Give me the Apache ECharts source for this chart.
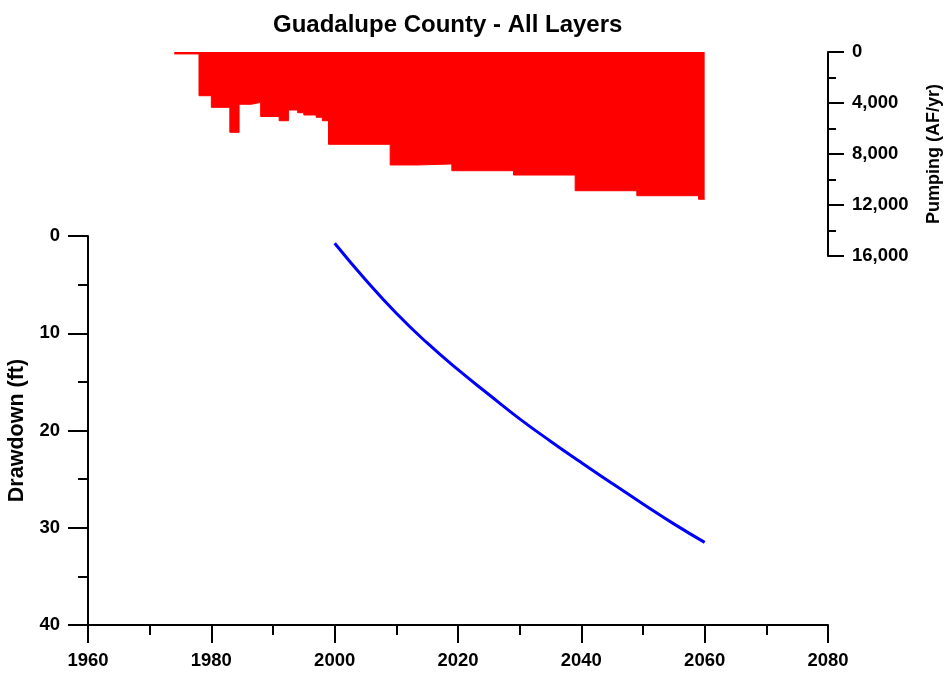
<!DOCTYPE html>
<html><head><meta charset="utf-8">
<script src="https://cdn.jsdelivr.net/npm/echarts@6/dist/echarts.min.js"></script>
<style>html,body{margin:0;padding:0;background:#fff}#c{width:946px;height:679px}</style>
</head><body><div id="c"></div><script>
// Pumping (AF/yr): each value holds from its start year until the next start year
const pumpYears = [1974,1978,1980,1983,1984.5,1986.5,1988,1991,1992.5,1994,1995,1997,1998,1999,2009,2013.5,2019,2029,2039,2049,2059,2060];
const pumpRates = [150,3430,4340,6300,4100,3950,5060,5390,4550,4760,4940,5120,5390,7240,8860,8780,9310,9650,10880,11270,11550,11550];
// Drawdown (ft)
const ddYears = [2000,2005,2010,2015,2020,2025,2030,2035,2040,2045,2050,2055,2060];
const ddValues = [0.75,4.5,7.95,11.0,13.75,16.3,18.8,21.1,23.3,25.45,27.55,29.6,31.5];
const xTicks = [1960,1980,2000,2020,2040,2060,2080];

const FONT = 'Liberation Sans, Arial, sans-serif';
const axisLine = {show:true, onZero:false, lineStyle:{color:'#000', width:2}};
const lbl = {color:'#000', fontFamily:FONT, fontWeight:'bold', fontSize:18.5};

const chart = echarts.init(document.getElementById('c'), null, {renderer:'canvas'});
chart.setOption({
  animation:false,
  backgroundColor:'#fff',
  title:{text:'Guadalupe County - All Layers', left:268, top:8,
    textStyle:{fontFamily:FONT, fontWeight:'bold', fontSize:24, color:'#000'}},
  grid:[
    {left:88, right:118, top:52, height:204, outerBoundsMode:'none', containLabel:false},
    {left:88, right:118, top:236, bottom:54, outerBoundsMode:'none', containLabel:false}
  ],
  xAxis:[
    {gridIndex:0, type:'value', min:xTicks[0], max:xTicks[xTicks.length-1], interval:20, show:false},
    {gridIndex:1, type:'value', position:'bottom', min:xTicks[0], max:xTicks[xTicks.length-1], interval:20,
      axisLine:axisLine, axisTick:{show:true, length:18, lineStyle:{color:'#000', width:2}},
      minorTick:{show:true, splitNumber:2, length:10, lineStyle:{color:'#000', width:2}},
      splitLine:{show:false}, axisLabel:Object.assign({margin:26, formatter:v=>String(v)}, lbl)}
  ],
  yAxis:[
    {gridIndex:0, type:'value', position:'right', inverse:true, min:0, max:16000, interval:4000,
      axisLine:axisLine, axisTick:{show:true, length:16, lineStyle:{color:'#000', width:2}},
      minorTick:{show:true, splitNumber:2, length:8, lineStyle:{color:'#000', width:2}},
      splitLine:{show:false},
      axisLabel:Object.assign({margin:24, formatter:v=>v.toLocaleString('en-US')}, lbl),
      name:'Pumping (AF/yr)', nameLocation:'middle', nameGap:97,
      nameTextStyle:{color:'#000', fontFamily:FONT, fontWeight:'bold', fontSize:18}},
    {gridIndex:1, type:'value', inverse:true, min:0, max:40, interval:10,
      axisLine:axisLine, axisTick:{show:true, length:20, lineStyle:{color:'#000', width:2}},
      minorTick:{show:true, splitNumber:2, length:10, lineStyle:{color:'#000', width:2}},
      splitLine:{show:false}, axisLabel:Object.assign({margin:28}, lbl),
      name:'Drawdown (ft)', nameLocation:'middle', nameGap:53,
      nameTextStyle:{color:'#000', fontFamily:FONT, fontWeight:'bold', fontSize:21.5}}
  ],
  series:[
    {type:'line', xAxisIndex:0, yAxisIndex:0, step:'end', symbol:'none',
      data:pumpYears.map((y,i)=>[y,pumpRates[i]]),
      lineStyle:{color:'#ff0000', width:1}, areaStyle:{color:'#ff0000', opacity:1}},
    {type:'line', xAxisIndex:1, yAxisIndex:1, smooth:true, symbol:'none',
      data:ddYears.map((y,i)=>[y,ddValues[i]]),
      lineStyle:{color:'#0000ff', width:3}}
  ]
});
</script></body></html>
